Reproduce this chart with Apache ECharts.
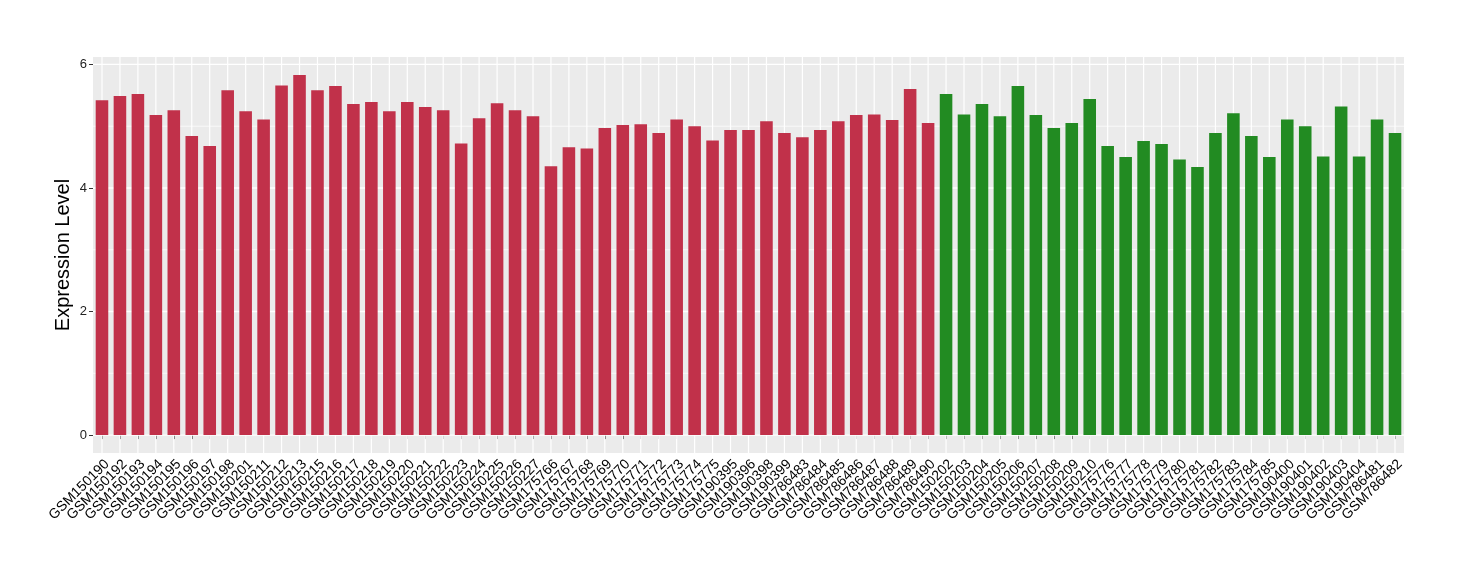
<!DOCTYPE html>
<html>
<head>
<meta charset="utf-8">
<script src="https://cdn.jsdelivr.net/npm/echarts@6/dist/echarts.min.js"></script>
<style>
  html, body { margin: 0; padding: 0; background: #ffffff; }
  #chart { width: 1460px; height: 580px; }
</style>
</head>
<body>
<div id="chart"></div>
<script>
const redSamples = ["GSM150190","GSM150192","GSM150193","GSM150194","GSM150195","GSM150196","GSM150197","GSM150198","GSM150201","GSM150211","GSM150212","GSM150213","GSM150215","GSM150216","GSM150217","GSM150218","GSM150219","GSM150220","GSM150221","GSM150222","GSM150223","GSM150224","GSM150225","GSM150226","GSM150227","GSM175766","GSM175767","GSM175768","GSM175769","GSM175770","GSM175771","GSM175772","GSM175773","GSM175774","GSM175775","GSM190395","GSM190396","GSM190398","GSM190399","GSM786483","GSM786484","GSM786485","GSM786486","GSM786487","GSM786488","GSM786489","GSM786490"];
const redValues = [5.42,5.49,5.52,5.18,5.26,4.84,4.68,5.58,5.24,5.11,5.66,5.83,5.58,5.65,5.36,5.39,5.24,5.39,5.31,5.26,4.72,5.13,5.37,5.26,5.16,4.35,4.66,4.64,4.97,5.02,5.03,4.89,5.11,5.00,4.77,4.94,4.94,5.08,4.89,4.82,4.94,5.08,5.18,5.19,5.10,5.60,5.05];
const greenSamples = ["GSM150202","GSM150203","GSM150204","GSM150205","GSM150206","GSM150207","GSM150208","GSM150209","GSM150210","GSM175776","GSM175777","GSM175778","GSM175779","GSM175780","GSM175781","GSM175782","GSM175783","GSM175784","GSM175785","GSM190400","GSM190401","GSM190402","GSM190403","GSM190404","GSM786481","GSM786482"];
const greenValues = [5.52,5.19,5.36,5.16,5.65,5.18,4.97,5.05,5.44,4.68,4.50,4.76,4.71,4.46,4.34,4.89,5.21,4.84,4.50,5.11,5.00,4.51,5.32,4.51,5.11,4.89];
const yTicks = [0, 2, 4, 6];
const yMinor = [1, 3, 5];
const yTitle = "Expression Level";

const RED = "#C1314A";
const GREEN = "#228B22";
const FONT = "'Liberation Sans', Arial, Helvetica, sans-serif";

const categories = redSamples.concat(greenSamples);
const barData = redValues.map(v => ({ value: v, itemStyle: { color: RED } }))
  .concat(greenValues.map(v => ({ value: v, itemStyle: { color: GREEN } })));

const hGrid = yTicks.map(v => [0, v, 1.4]).concat(yMinor.map(v => [0, v, 0.7]));
const vGrid = categories.map((c, i) => [i, 0]);

const chart = echarts.init(document.getElementById('chart'), null, { renderer: 'canvas' });
chart.setOption({
  animation: false,
  grid: {
    left: 93, right: 56, top: 57, bottom: 127,
    show: true, backgroundColor: '#EBEBEB', borderWidth: 0
  },
  xAxis: {
    type: 'category',
    data: categories,
    boundaryGap: true,
    axisLine: { show: false },
    axisTick: { show: true, alignWithLabel: true, length: 4, lineStyle: { color: '#333333', width: 1 } },
    axisLabel: { interval: 0, rotate: 45, fontSize: 14, margin: 4, verticalAlign: 'top', color: '#000000', fontFamily: FONT },
    splitLine: { show: false }
  },
  yAxis: {
    type: 'value',
    min: -0.29,
    max: 6.12,
    name: yTitle,
    nameLocation: 'middle',
    nameRotate: 90,
    nameGap: 20,
    nameMoveOverlap: false,
    nameTextStyle: { fontSize: 20, color: '#000000', fontFamily: FONT },
    axisLine: { show: false },
    axisTick: { show: true, customValues: yTicks, length: 4, lineStyle: { color: '#333333', width: 1 } },
    axisLabel: { customValues: yTicks, fontSize: 13, margin: 6, color: '#222222', fontFamily: FONT },
    splitLine: { show: false }
  },
  series: [
    {
      type: 'custom',
      z: 1,
      silent: true,
      data: hGrid,
      encode: { x: 0, y: 1 },
      renderItem: function (params, api) {
        const cs = params.coordSys;
        const p = api.coord([0, api.value(1)]);
        return {
          type: 'line',
          shape: { x1: cs.x, y1: p[1], x2: cs.x + cs.width, y2: p[1] },
          style: { stroke: '#ffffff', lineWidth: api.value(2) }
        };
      }
    },
    {
      type: 'custom',
      z: 1,
      silent: true,
      data: vGrid,
      encode: { x: 0, y: 1 },
      renderItem: function (params, api) {
        const cs = params.coordSys;
        const p = api.coord([api.value(0), 0]);
        return {
          type: 'line',
          shape: { x1: p[0], y1: cs.y, x2: p[0], y2: cs.y + cs.height },
          style: { stroke: '#ffffff', lineWidth: 1.2 }
        };
      }
    },
    {
      type: 'bar',
      z: 2,
      data: barData,
      barWidth: '70%'
    }
  ]
});
</script>
</body>
</html>
